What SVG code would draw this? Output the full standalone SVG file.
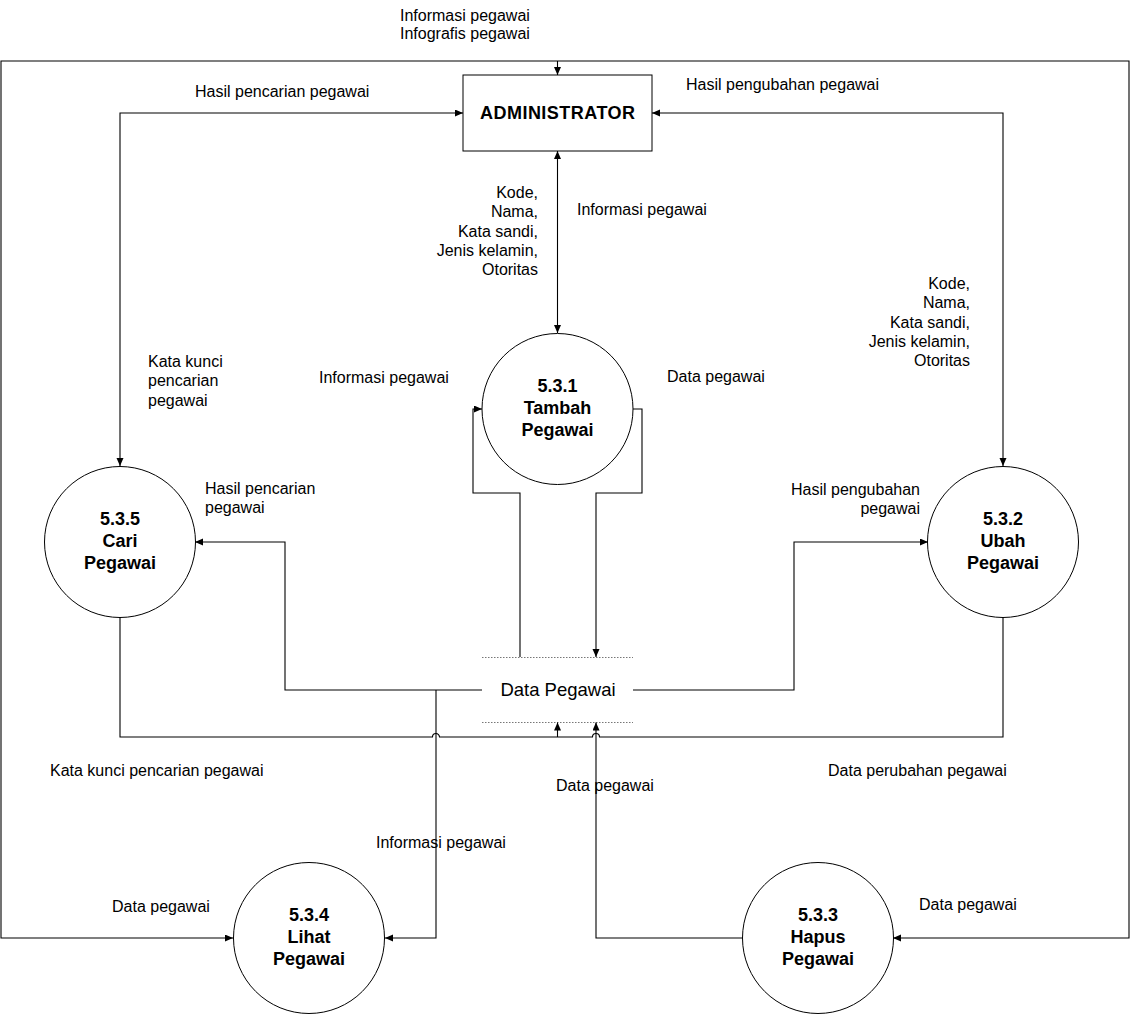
<svg xmlns="http://www.w3.org/2000/svg" width="1132" height="1016" viewBox="0 0 1132 1016">
  <style>
    .lbl { font-family: "Liberation Sans", Arial, sans-serif; font-size: 16px; fill: #000; }
    .end { text-anchor: end; }
    .proc circle { fill: #fff; stroke: #000; stroke-width: 1; }
    .proc text { font-family: "Liberation Sans", Arial, sans-serif; font-size: 18px; font-weight: bold; text-anchor: middle; fill: #000; }
    .flow path { fill: none; stroke: #000; stroke-width: 1.1; }
    .store line { stroke: #777; stroke-width: 1; stroke-dasharray: 1.5 1.5; }
  </style>
  <defs>
    <marker id="ah" markerUnits="userSpaceOnUse" markerWidth="9" markerHeight="8" refX="8" refY="3.5" orient="auto-start-reverse">
      <path d="M0,0 L8,3.5 L0,7 z" fill="#000"/>
    </marker>
  </defs>
  <rect width="1132" height="1016" fill="#fff"/>

  <!-- external entity -->
  <g id="administrator">
    <rect x="463" y="75" width="189" height="76" fill="#fff" stroke="#000" stroke-width="1"/>
    <text x="557.5" y="119" text-anchor="middle" font-family="Liberation Sans, Arial, sans-serif" font-size="18" font-weight="bold" textLength="155" lengthAdjust="spacing">ADMINISTRATOR</text>
  </g>

  <!-- processes -->
  <g id="p531" class="proc">
    <circle cx="557.5" cy="409" r="75.5"/>
    <text x="557.5" y="392">5.3.1</text>
    <text x="557.5" y="414">Tambah</text>
    <text x="557.5" y="436">Pegawai</text>
  </g>
  <g id="p535" class="proc">
    <circle cx="120" cy="542" r="75.5"/>
    <text x="120" y="525">5.3.5</text>
    <text x="120" y="547">Cari</text>
    <text x="120" y="569">Pegawai</text>
  </g>
  <g id="p532" class="proc">
    <circle cx="1003" cy="542" r="75.5"/>
    <text x="1003" y="525">5.3.2</text>
    <text x="1003" y="547">Ubah</text>
    <text x="1003" y="569">Pegawai</text>
  </g>
  <g id="p534" class="proc">
    <circle cx="309" cy="938" r="75.5"/>
    <text x="309" y="921">5.3.4</text>
    <text x="309" y="943">Lihat</text>
    <text x="309" y="965">Pegawai</text>
  </g>
  <g id="p533" class="proc">
    <circle cx="818" cy="938" r="75.5"/>
    <text x="818" y="921">5.3.3</text>
    <text x="818" y="943">Hapus</text>
    <text x="818" y="965">Pegawai</text>
  </g>

  <!-- data store -->
  <g id="data-pegawai" class="store">
    <line x1="482" y1="657.5" x2="633" y2="657.5"/>
    <line x1="482" y1="722.5" x2="633" y2="722.5"/>
    <text x="558" y="696" text-anchor="middle" font-family="Liberation Sans, Arial, sans-serif" font-size="18.5" fill="#000">Data Pegawai</text>
  </g>

  <!-- data flows -->
  <g id="connectors" class="flow">
    <path d="M233,938 H1 V61 H1129 V938 H893" marker-start="url(#ah)" marker-end="url(#ah)"/>
    <path d="M557.5,61 V75" marker-end="url(#ah)"/>
    <path d="M463,113 H120 V466" marker-start="url(#ah)" marker-end="url(#ah)"/>
    <path d="M652,113 H1003 V466" marker-start="url(#ah)" marker-end="url(#ah)"/>
    <path d="M557.5,151 V333" marker-start="url(#ah)" marker-end="url(#ah)"/>
    <path d="M520,657 V493 H473 V409 H482" marker-end="url(#ah)"/>
    <path d="M633,409 H642 V493 H596 V657" marker-end="url(#ah)"/>
    <path d="M482,690 H285 V542 H195" marker-end="url(#ah)"/>
    <path d="M436,690 V938 H385" marker-end="url(#ah)"/>
    <path d="M633,690 H794 V542 H928" marker-end="url(#ah)"/>
    <path d="M120,617 V737 H432.5 a3.5,3.5 0 0 1 7,0 H592.5 a3.5,3.5 0 0 1 7,0 H1003 V617"/>
    <path d="M557.5,737 V722.5" marker-end="url(#ah)"/>
    <path d="M742,938 H596 V722.5" marker-end="url(#ah)"/>
  </g>

  <!-- flow labels -->
  <g id="labels">
    <text class="lbl" x="400" y="21">Informasi pegawai</text>
    <text class="lbl" x="400" y="39">Infografis pegawai</text>
    <text class="lbl" x="195" y="97">Hasil pencarian pegawai</text>
    <text class="lbl" x="686" y="90">Hasil pengubahan pegawai</text>
    <text class="lbl end" x="538" y="198">Kode,</text>
    <text class="lbl end" x="538" y="217">Nama,</text>
    <text class="lbl end" x="538" y="237">Kata sandi,</text>
    <text class="lbl end" x="538" y="256">Jenis kelamin,</text>
    <text class="lbl end" x="538" y="275">Otoritas</text>
    <text class="lbl" x="577" y="215">Informasi pegawai</text>
    <text class="lbl end" x="970" y="289">Kode,</text>
    <text class="lbl end" x="970" y="308">Nama,</text>
    <text class="lbl end" x="970" y="328">Kata sandi,</text>
    <text class="lbl end" x="970" y="347">Jenis kelamin,</text>
    <text class="lbl end" x="970" y="366">Otoritas</text>
    <text class="lbl" x="148" y="367">Kata kunci</text>
    <text class="lbl" x="148" y="386">pencarian</text>
    <text class="lbl" x="148" y="406">pegawai</text>
    <text class="lbl" x="319" y="383">Informasi pegawai</text>
    <text class="lbl" x="667" y="382">Data pegawai</text>
    <text class="lbl" x="205" y="494">Hasil pencarian</text>
    <text class="lbl" x="205" y="513">pegawai</text>
    <text class="lbl end" x="920" y="495">Hasil pengubahan</text>
    <text class="lbl end" x="920" y="514">pegawai</text>
    <text class="lbl" x="50" y="776">Kata kunci pencarian pegawai</text>
    <text class="lbl" x="556" y="791">Data pegawai</text>
    <text class="lbl" x="828" y="776">Data perubahan pegawai</text>
    <text class="lbl" x="376" y="848">Informasi pegawai</text>
    <text class="lbl" x="112" y="912">Data pegawai</text>
    <text class="lbl" x="919" y="910">Data pegawai</text>
  </g>
</svg>
